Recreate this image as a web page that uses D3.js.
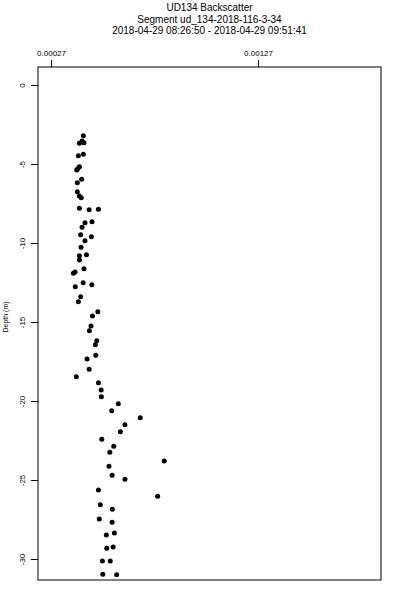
<!DOCTYPE html>
<html>
<head>
<meta charset="utf-8">
<script src="https://cdn.jsdelivr.net/npm/d3@7"></script>
<style>
  body { margin: 0; background: #fff; }
  svg { display: block; font-family: "Liberation Sans", Arial, Helvetica, sans-serif; }
</style>
</head>
<body>
<div class="wrapper"></div>
<script>

var titleLines = ["UD134 Backscatter",
	"Segment ud_134-2018-116-3-34",
	"2018-04-29 08:26:50 - 2018-04-29 09:51:41"];

var xTicks = [0.00027, 0.00127],
	yTicks = [0, -5, -10, -15, -20, -25, -30];

// depth (m) and backscatter
var depth = [-3.21, -3.54, -3.69, -3.65, -4.47, -4.39, -5.17, -5.28, -5.38, -5.97,
	-6.18, -6.75, -7.03, -7.13, -7.80, -7.89, -7.87, -8.65, -8.72, -9.01,
	-9.47, -9.60, -9.85, -10.27, -10.74, -10.80, -11.08, -11.63, -11.84, -11.92,
	-12.51, -12.64, -12.77, -13.40, -13.72, -14.35, -14.62, -15.25, -15.55, -16.18,
	-16.44, -17.11, -17.34, -17.99, -18.46, -18.84, -19.30, -19.73, -20.17, -20.61,
	-21.06, -21.50, -21.94, -22.42, -22.87, -23.25, -23.80, -24.13, -24.70, -24.96,
	-25.63, -26.03, -26.56, -26.85, -27.47, -27.68, -28.35, -28.48, -29.24, -29.32,
	-30.13, -30.13, -30.97, -31.00];

var backscatter = [0.000426, 0.000420, 0.000407, 0.000429, 0.000402, 0.000426, 0.000407, 0.000400, 0.000394, 0.000418,
	0.000397, 0.000397, 0.000407, 0.000416, 0.000407, 0.000454, 0.000499, 0.000468, 0.000434, 0.000420,
	0.000413, 0.000465, 0.000434, 0.000415, 0.000441, 0.000407, 0.000407, 0.000429, 0.000386, 0.000378,
	0.000425, 0.000467, 0.000387, 0.000413, 0.000402, 0.000496, 0.000470, 0.000463, 0.000455, 0.000491,
	0.000484, 0.000486, 0.000444, 0.000454, 0.000392, 0.000499, 0.000512, 0.000513, 0.000595, 0.000563,
	0.000701, 0.000627, 0.000605, 0.000515, 0.000573, 0.000554, 0.000817, 0.000550, 0.000565, 0.000627,
	0.000499, 0.000785, 0.000508, 0.000566, 0.000503, 0.000565, 0.000576, 0.000537, 0.000570, 0.000539,
	0.000518, 0.000556, 0.000520, 0.000587];

var WIDTH = 400, HEIGHT = 600;
var margin = {top: 67, right: 19, bottom: 20, left: 38};
var plotW = WIDTH - margin.left - margin.right,
	plotH = HEIGHT - margin.top - margin.bottom;

var svg = d3.select(".wrapper")
	.append("svg")
		.attr("width", WIDTH)
		.attr("height", HEIGHT);

var x = d3.scaleLinear()
	.domain([0.000207, 0.001864])
	.range([margin.left, margin.left + plotW]);

var y = d3.scaleLinear()
	.domain([1.14, -31.33])
	.range([margin.top, margin.top + plotH]);

// titles
svg.selectAll("text.title")
	.data(titleLines)
	.enter()
	.append("text")
		.attr("class", "title")
		.attr("x", margin.left + plotW / 2)
		.attr("y", function(d, i) { return 11 + i * 11.5; })
		.attr("text-anchor", "middle")
		.attr("font-size", "10px")
		.text(function(d) { return d; });

// top axis
var xAxis = svg.append("g")
	.attr("transform", "translate(0," + margin.top + ")")
	.call(d3.axisTop(x)
		.tickValues(xTicks)
		.tickSize(7)
		.tickPadding(4)
		.tickFormat(function(d) { return d.toFixed(5); }));
xAxis.select(".domain").remove();
xAxis.selectAll("text").attr("font-size", "8px").attr("fill", "#000");

// left axis, labels turned
var yAxis = svg.append("g")
	.attr("transform", "translate(" + margin.left + ",0)")
	.call(d3.axisLeft(y)
		.tickValues(yTicks)
		.tickSize(7)
		.tickFormat(function(d) { return d; }));
yAxis.select(".domain").remove();
yAxis.selectAll(".tick text")
	.attr("x", null)
	.attr("dy", null)
	.attr("transform", "translate(-13,0) rotate(-90)")
	.attr("text-anchor", "middle")
	.attr("font-size", "8px")
	.attr("fill", "#000");

svg.append("text")
	.attr("transform", "translate(8,317) rotate(-90)")
	.attr("text-anchor", "middle")
	.attr("font-size", "7px")
	.text("Depth (m)");

// frame
svg.append("rect")
	.attr("x", margin.left)
	.attr("y", margin.top)
	.attr("width", plotW)
	.attr("height", plotH)
	.attr("fill", "none")
	.attr("stroke", "#000")
	.attr("stroke-width", 1);

// points
svg.append("g")
	.selectAll("circle")
	.data(depth)
	.enter()
	.append("circle")
		.attr("cx", function(d, i) { return x(backscatter[i]); })
		.attr("cy", function(d) { return y(d); })
		.attr("r", 2.5)
		.attr("fill", "#000");

</script>
</body>
</html>
